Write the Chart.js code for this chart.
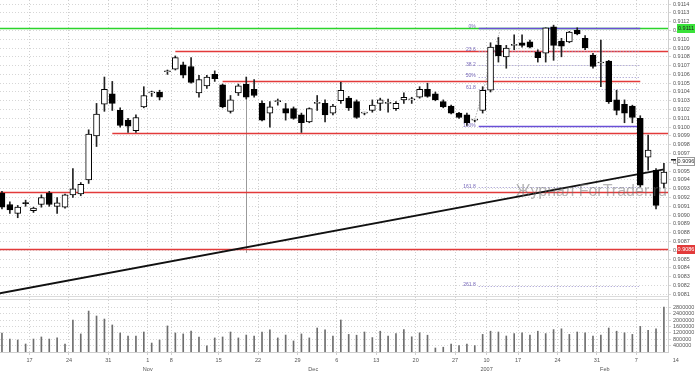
<!DOCTYPE html>
<html>
<head>
<meta charset="utf-8">
<script src="https://cdn.jsdelivr.net/npm/chart.js@4.4.1/dist/chart.umd.min.js"></script>
<style>
  html, body { margin: 0; padding: 0; background: #fff; overflow: hidden; }
</style>
</head>
<body>
<canvas id="chart" width="697" height="373" style="width:697px;height:373px"></canvas>
<script>
// daily candles
var open  = [0.90925, 0.90912, 0.90902, 0.90914, 0.90905, 0.90912, 0.90925, 0.90910, 0.90909, 0.90923,
             0.90924, 0.90940, 0.90990, 0.91026, 0.91038, 0.91019, 0.91008, 0.90996, 0.91023, 0.91039,
             0.91040, 0.91063, 0.91066, 0.91071, 0.91069, 0.91039, 0.91047, 0.91060, 0.91048, 0.91018,
             0.91039, 0.91049, 0.91043, 0.91027, 0.91016, 0.91029, 0.91021, 0.91021, 0.91014, 0.91006,
             0.91027, 0.91027, 0.91016, 0.91030, 0.91033, 0.91029, 0.91016, 0.91019, 0.91027, 0.91027,
             0.91021, 0.91031, 0.91031, 0.91034, 0.91043, 0.91038, 0.91029, 0.91024, 0.91016, 0.91014,
             0.91008, 0.91019, 0.91042, 0.91093, 0.91080, 0.91093, 0.91096, 0.91097, 0.91085, 0.91084,
             0.91114, 0.91098, 0.91097, 0.91110, 0.91101, 0.91082, 0.91073, 0.91075, 0.91031, 0.91026,
             0.91024, 0.91010, 0.90966, 0.90951, 0.90936];
var high  = [0.90927, 0.90915, 0.90911, 0.90917, 0.90909, 0.90923, 0.90927, 0.90920, 0.90924, 0.90953,
             0.90937, 0.90997, 0.91027, 0.91057, 0.91052, 0.91022, 0.91010, 0.91014, 0.91046, 0.91041,
             0.91042, 0.91065, 0.91081, 0.91074, 0.91079, 0.91059, 0.91059, 0.91064, 0.91049, 0.91036,
             0.91049, 0.91057, 0.91054, 0.91030, 0.91029, 0.91032, 0.91027, 0.91023, 0.91016, 0.91022,
             0.91036, 0.91031, 0.91026, 0.91051, 0.91035, 0.91031, 0.91017, 0.91031, 0.91033, 0.91032,
             0.91029, 0.91039, 0.91034, 0.91046, 0.91050, 0.91040, 0.91031, 0.91025, 0.91017, 0.91016,
             0.91009, 0.91046, 0.91096, 0.91102, 0.91093, 0.91105, 0.91105, 0.91099, 0.91088, 0.91113,
             0.91116, 0.91101, 0.91109, 0.91113, 0.91104, 0.91084, 0.91099, 0.91076, 0.91042, 0.91031,
             0.91025, 0.91013, 0.90991, 0.90953, 0.90959];
var low   = [0.90907, 0.90902, 0.90897, 0.90910, 0.90903, 0.90909, 0.90910, 0.90902, 0.90908, 0.90920,
             0.90922, 0.90936, 0.90978, 0.91018, 0.91019, 0.91000, 0.90994, 0.90994, 0.91022, 0.91035,
             0.91031, 0.91060, 0.91065, 0.91056, 0.91050, 0.91034, 0.91044, 0.91052, 0.91022, 0.91016,
             0.91036, 0.91032, 0.91034, 0.91007, 0.91000, 0.91025, 0.91008, 0.91009, 0.90994, 0.91005,
             0.91019, 0.91006, 0.91014, 0.91027, 0.91019, 0.91010, 0.91014, 0.91017, 0.91019, 0.91017,
             0.91019, 0.91027, 0.91027, 0.91033, 0.91034, 0.91030, 0.91022, 0.91015, 0.91010, 0.91002,
             0.91006, 0.91016, 0.91040, 0.91074, 0.91067, 0.91088, 0.91091, 0.91090, 0.91074, 0.91074,
             0.91076, 0.91080, 0.91096, 0.91105, 0.91088, 0.91067, 0.91046, 0.91027, 0.91014, 0.91005,
             0.91005, 0.90932, 0.90951, 0.90907, 0.90931];
var close = [0.90909, 0.90906, 0.90909, 0.90913, 0.90908, 0.90920, 0.90912, 0.90914, 0.90923, 0.90930,
             0.90935, 0.90992, 0.91015, 0.91043, 0.91027, 0.91002, 0.91001, 0.91011, 0.91036, 0.91039,
             0.91034, 0.91063, 0.91079, 0.91059, 0.91051, 0.91054, 0.91057, 0.91055, 0.91023, 0.91031,
             0.91047, 0.91034, 0.91036, 0.91008, 0.91023, 0.91029, 0.91016, 0.91010, 0.91005, 0.91021,
             0.91027, 0.91014, 0.91024, 0.91042, 0.91022, 0.91011, 0.91016, 0.91025, 0.91031, 0.91027,
             0.91027, 0.91034, 0.91031, 0.91043, 0.91035, 0.91031, 0.91023, 0.91016, 0.91011, 0.91005,
             0.91008, 0.91042, 0.91091, 0.91081, 0.91090, 0.91093, 0.91093, 0.91091, 0.91079, 0.91113,
             0.91093, 0.91092, 0.91108, 0.91106, 0.91090, 0.91069, 0.91073, 0.91029, 0.91019, 0.91016,
             0.91011, 0.90934, 0.90974, 0.90911, 0.90949];
var volume = [1190000, 810000, 750000, 500000, 810000, 940000, 810000, 880000, 500000, 2000000,
              1130000, 2560000, 2250000, 2060000, 1690000, 1190000, 1000000, 1000000, 1250000, 560000,
              750000, 1630000, 1190000, 1130000, 1310000, 940000, 380000, 880000, 940000, 1250000,
              880000, 1060000, 1000000, 1250000, 1380000, 880000, 1060000, 690000, 1130000, 880000,
              1500000, 1380000, 1000000, 2000000, 1100000, 1050000, 1250000, 900000, 1300000, 1000000,
              1150000, 1400000, 950000, 1200000, 1050000, 250000, 300000, 500000, 400000, 500000,
              400000, 1100000, 1300000, 1250000, 1000000, 1150000, 1200000, 1050000, 1300000, 1150000,
              1400000, 1450000, 1100000, 1250000, 1200000, 1000000, 1050000, 1500000, 1300000, 1200000,
              1100000, 1600000, 1350000, 1450000, 2800000];

// date labels: candle index where each label sits
var tickIdx  = [3, 8, 13, 18, 21, 27, 32, 37, 42, 47, 52, 57, 61, 65, 70, 75, 80, 85];
var tickText = ["17", "24", "31", "1", "8", "15", "22", "29", "6", "13", "20", "27", "10", "17", "24", "31", "7", "14"];
var monthIdx  = [18, 39, 61, 76];
var monthText = ["Nov", "Dec", "2007", "Feb"];
var volumeTicks = [400000, 800000, 1200000, 1600000, 2000000, 2400000, 2800000];

// drawn levels
var greenLevel = 0.91113;
var redLevels = [0.91087, 0.91053, 0.90993, 0.90926, 0.90862];
var redFrom   = [22, 28, 14, -1, -1];
var redTo     = [86, 81, 86, 86, 86];
var fibHigh = 0.91113, fibLow = 0.91001, fibFrom = 60.5, fibTo = 81;
var fibRatios = [0, 0.236, 0.382, 0.5, 0.618, 1, 1.618, 2.618];
var fibText   = ["0%", "23.6", "38.2", "50%", "61.8", "100%", "161.8", "261.8"];
var trendIdx   = [-0.3, 84];
var trendPrice = [0.90811, 0.90952];
var lastPrice = 0.90962;

var n = open.length;
var bodies = [], wicks = [], vols = [], bodyColors = [];
for (var i = 0; i < n; i++) {
  bodies.push({ x: i, y: [open[i], close[i]] });
  wicks.push({ x: i, y: [low[i], high[i]] });
  vols.push({ x: i, y: volume[i] });
  bodyColors.push(close[i] < open[i] ? "#000" : "#fff");
}

// price grid every 0.0001
var priceTicks = [];
for (var k = 9081; k <= 9114; k++) priceTicks.push(k / 10000);

function noPadding(scale) {
  scale.paddingLeft = 0;
  scale.paddingRight = 0;
  scale.paddingTop = 0;
  scale.paddingBottom = 0;
}

var overlay = {
  id: "overlay",
  beforeDatasetsDraw: function (chart) {
    var ctx = chart.ctx, xs = chart.scales.x, ys = chart.scales.y;
    var px = function (v) { return xs.getPixelForValue(v); };
    var py = function (v) { return ys.getPixelForValue(v); };
    ctx.save();
    ctx.beginPath();
    ctx.rect(xs.left, ys.top, xs.right - xs.left, ys.bottom - ys.top);
    ctx.clip();

    function hline(p, a, b, color, w, dash) {
      ctx.strokeStyle = color;
      ctx.lineWidth = w;
      ctx.setLineDash(dash || []);
      ctx.beginPath();
      ctx.moveTo(px(a), Math.round(py(p)) + 0.5);
      ctx.lineTo(px(b), Math.round(py(p)) + 0.5);
      ctx.stroke();
    }

    // vertical marker line
    ctx.strokeStyle = "#9a9a9a";
    ctx.lineWidth = 1;
    ctx.beginPath();
    ctx.moveTo(Math.round(px(31)) + 0.5, py(0.91057));
    ctx.lineTo(Math.round(px(31)) + 0.5, py(0.90857));
    ctx.stroke();

    // red support / resistance
    for (var k = 0; k < redLevels.length; k++) {
      hline(redLevels[k], redFrom[k], redTo[k], "#e23a3a", 1.6);
    }
    hline(greenLevel, -1, 86, "#2bd42b", 1.6);

    // fibonacci grid
    var range = fibHigh - fibLow;
    ctx.font = "5px 'Liberation Sans'";
    ctx.textAlign = "right";
    ctx.textBaseline = "middle";
    for (var f = 0; f < fibRatios.length; f++) {
      var lv = fibHigh - fibRatios[f] * range;
      if (fibRatios[f] === 0 || fibRatios[f] === 1) {
        hline(lv, fibFrom, fibTo, "#6a4fd6", 1.5);
      } else {
        hline(lv, fibFrom, fibTo, "#9b92cc", 1, [1, 2]);
      }
      ctx.fillStyle = "#7566b8";
      ctx.fillText(fibText[f], px(fibFrom) - 3, py(lv) - 1);
    }
    // fib anchor
    ctx.setLineDash([1, 2]);
    ctx.strokeStyle = "#888";
    ctx.lineWidth = 1;
    ctx.beginPath();
    ctx.moveTo(px(60), py(0.91008));
    ctx.lineTo(px(63.2), py(0.91110));
    ctx.stroke();
    ctx.setLineDash([]);

    // trend line
    ctx.strokeStyle = "#111";
    ctx.lineWidth = 2;
    ctx.beginPath();
    ctx.moveTo(px(trendIdx[0]), py(trendPrice[0]));
    ctx.lineTo(px(trendIdx[1]), py(trendPrice[1]));
    ctx.stroke();
    ctx.restore();
  },
  afterDatasetsDraw: function (chart) {
    var ctx = chart.ctx, xs = chart.scales.x, ys = chart.scales.y;
    ctx.save();
    ctx.font = "16px 'Liberation Sans'";
    ctx.fillStyle = "rgba(110,110,110,0.5)";
    ctx.textAlign = "right";
    ctx.textBaseline = "alphabetic";
    ctx.fillText("Журнал ForTrader.ru", xs.right - 1, ys.top + 196);
    ctx.restore();
  },
  afterDraw: function (chart) {
    var ctx = chart.ctx, xs = chart.scales.x, ys = chart.scales.y, vs = chart.scales.v;
    ctx.save();
    // pane separator
    ctx.fillStyle = "#dcdcdc";
    ctx.fillRect(xs.left, vs.top, xs.right - xs.left, 1);
    ctx.fillRect(xs.left, vs.top + 3, xs.right - xs.left, 1);

    // month labels
    ctx.font = "5.5px 'Liberation Sans'";
    ctx.fillStyle = "#555";
    ctx.textAlign = "center";
    ctx.textBaseline = "middle";
    for (var m = 0; m < monthIdx.length; m++) {
      ctx.fillText(monthText[m], xs.getPixelForValue(monthIdx[m] + 0.5), xs.bottom - 4);
    }

    // axis boxes
    function box(p, bg, fg, border) {
      var yy = Math.round(ys.getPixelForValue(p));
      ctx.fillStyle = bg;
      ctx.fillRect(ys.left + 9, yy - 4, 18, 9);
      if (border) {
        ctx.strokeStyle = border;
        ctx.lineWidth = 1;
        ctx.strokeRect(ys.left + 9.5, yy - 3.5, 17, 8);
      }
      ctx.fillStyle = fg;
      ctx.textAlign = "center";
      ctx.fillText(p.toFixed(4), ys.left + 18, yy + 0.5);
    }
    box(greenLevel, "#39e239", "#222");
    box(redLevels[4], "#e23a3a", "#fff");
    box(lastPrice, "#fff", "#333", "#999");
    ctx.fillStyle = "#222";
    ctx.fillRect(ys.left + 3, Math.round(ys.getPixelForValue(lastPrice)) - 2, 5, 1.5);
    ctx.restore();
  }
};

var tickFont = { size: 5.5, family: "'Liberation Sans'" };

new Chart(document.getElementById("chart"), {
  type: "bar",
  data: {
    datasets: [
      {
        data: bodies,
        yAxisID: "y",
        backgroundColor: bodyColors,
        borderColor: "#000",
        borderWidth: 1,
        borderSkipped: false,
        barThickness: 6,
        minBarLength: 1,
        grouped: false,
        order: 0,
      },
      {
        data: wicks,
        yAxisID: "y",
        backgroundColor: "#222",
        borderWidth: 0,
        barThickness: 1,
        grouped: false,
        order: 1,
      },
      {
        data: vols,
        yAxisID: "v",
        backgroundColor: "#6e6e6e",
        borderWidth: 0,
        barThickness: 1,
        grouped: false,
        order: 2,
      },
    ],
  },
  options: {
    responsive: false,
    animation: false,
    devicePixelRatio: 1,
    layout: { padding: 0 },
    plugins: { legend: { display: false }, tooltip: { enabled: false } },
    scales: {
      x: {
        type: "linear",
        offset: false,
        min: -0.25,
        max: 84.52,
        afterBuildTicks: function (scale) {
          scale.ticks = tickIdx.map(function (t) { return { value: t + 0.5 }; });
        },
        afterFit: function (scale) { scale.height = 21; noPadding(scale); },
        ticks: {
          autoSkip: false,
          maxRotation: 0,
          padding: 2,
          font: tickFont,
          color: "#555",
          callback: function (v, idx) { return tickText[idx]; },
        },
        grid: {
          offset: false,
          color: function (c) { return c.tick && c.tick.value > 84.52 ? "rgba(0,0,0,0)" : "#cfcfcf"; },
          tickLength: 3,
        },
        border: { display: true, color: "#cfcfcf", dash: [1, 2] },
      },
      y: {
        position: "right",
        stack: "panes",
        stackWeight: 296,
        min: 0.90808,
        max: 0.911446,
        afterBuildTicks: function (scale) {
          scale.ticks = priceTicks.map(function (t) { return { value: t }; });
        },
        afterFit: function (scale) { scale.width = 29; noPadding(scale); },
        ticks: {
          autoSkip: false,
          padding: 2,
          font: tickFont,
          color: "#555",
          callback: function (v) { return Number(v).toFixed(4); },
        },
        grid: { color: "#d6d6d6", tickLength: 3 },
        border: { display: true, color: "#cfcfcf", dash: [1, 2] },
      },
      v: {
        position: "right",
        stack: "panes",
        stackWeight: 56,
        min: 0,
        max: 3500000,
        afterBuildTicks: function (scale) {
          scale.ticks = volumeTicks.map(function (t) { return { value: t }; });
        },
        afterFit: function (scale) { scale.width = 29; noPadding(scale); },
        ticks: {
          autoSkip: false,
          padding: 2,
          font: tickFont,
          color: "#555",
          callback: function (v) { return String(v); },
        },
        grid: { color: "#d6d6d6", tickLength: 3 },
        border: { display: true, color: "#cfcfcf", dash: [1, 2] },
      },
    },
  },
  plugins: [overlay],
});
</script>
</body>
</html>
